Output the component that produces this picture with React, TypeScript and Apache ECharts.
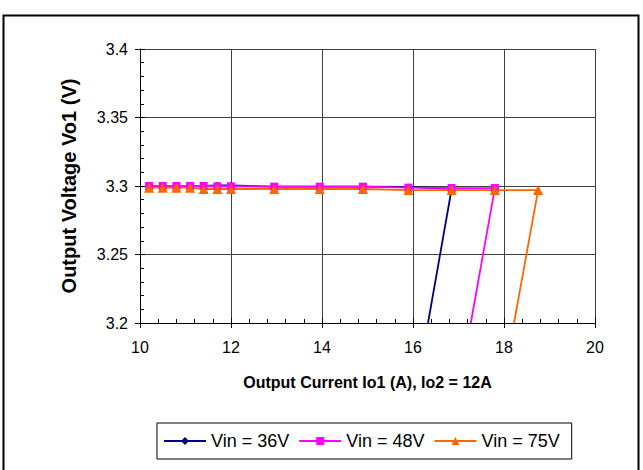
import React, { useEffect, useRef } from "react";
import * as echarts from "echarts";

const iout36 = [10.2, 10.5, 10.8, 11.1, 11.4, 11.7, 12.0, 12.95, 13.95, 14.9, 15.9, 16.85, 16.33];
const vo36 = [3.3, 3.3, 3.3, 3.3, 3.3, 3.3005, 3.3005, 3.2995, 3.2995, 3.2995, 3.2993, 3.298, 3.2];
const iout48 = [10.2, 10.5, 10.8, 11.1, 11.4, 11.7, 12.0, 12.95, 13.95, 14.9, 15.9, 16.85, 17.8, 17.27];
const vo48 = [3.3, 3.3, 3.3, 3.3, 3.3, 3.2998, 3.2998, 3.2995, 3.2995, 3.2995, 3.2988, 3.2985, 3.2985, 3.2];
const iout75 = [10.2, 10.5, 10.8, 11.1, 11.4, 11.7, 12.0, 12.95, 13.95, 14.9, 15.9, 16.85, 17.8, 18.75, 18.22];
const vo75 = [3.2988, 3.2988, 3.2988, 3.2988, 3.2978, 3.2978, 3.2978, 3.2978, 3.2978, 3.2978, 3.297, 3.297, 3.297, 3.297, 3.2];

const seriesNames = ["Vin = 36V", "Vin = 48V", "Vin = 75V"];
const xTickLabels = ["10", "12", "14", "16", "18", "20"];
const yTickLabels = ["3.2", "3.25", "3.3", "3.35", "3.4"];

const FONT = "'Liberation Sans', Arial, sans-serif";

function pts(xs: number[], ys: number[]) {
  return xs.map((x, i) => {
    const last = i === xs.length - 1;
    return last ? { value: [x, ys[i]], symbol: "none" } : { value: [x, ys[i]] };
  });
}

export default function App() {
  const ref = useRef<HTMLDivElement>(null);
  useEffect(() => {
    document.body.style.margin = "0";
    const chart = echarts.init(ref.current!, null, { renderer: "svg" });
    const gridColor = "#404040";
    const option: any = {
      animation: false,
      backgroundColor: "#fff",
      textStyle: { fontFamily: FONT },
      graphic: [
        {
          type: "rect",
          shape: { x: 3.5, y: 15.5, width: 635, height: 470 },
          style: { fill: "none", stroke: "#000", lineWidth: 2 },
          silent: true,
        },
      ],
      grid: { left: 140, top: 49, width: 455, height: 274 },
      xAxis: [
        {
          type: "value",
          min: 10,
          max: 20,
          interval: 2,
          position: "bottom",
          name: "Output Current Io1 (A), Io2 = 12A",
          nameLocation: "middle",
          nameGap: 51,
          nameTextStyle: { fontSize: 16, fontWeight: "bold", color: "#000", fontFamily: FONT },
          axisLine: { show: true, lineStyle: { color: "#000", width: 1 } },
          axisTick: { show: true, inside: true, length: 5, lineStyle: { color: "#000" } },
          minorTick: { show: true, splitNumber: 5, length: 4, lineStyle: { color: "#000" } },
          axisLabel: {
            fontSize: 16,
            color: "#000",
            margin: 16,
            fontFamily: FONT,
            formatter: (v: number) => xTickLabels[Math.round((v - 10) / 2)] ?? "",
          },
          splitLine: { show: true, lineStyle: { color: gridColor, width: 1 } },
        },
        {
          type: "value",
          min: 10,
          max: 20,
          interval: 2,
          position: "bottom",
          axisLine: { show: false },
          axisTick: { show: true, inside: false, length: 5, lineStyle: { color: "#000" } },
          axisLabel: { show: false },
          splitLine: { show: false },
        },
      ],
      yAxis: [
        {
          type: "value",
          min: 3.2,
          max: 3.4,
          interval: 0.05,
          position: "left",
          name: "Output Voltage Vo1 (V)",
          nameLocation: "middle",
          nameGap: 61,
          nameTextStyle: { fontSize: 20, fontWeight: "bold", color: "#000", fontFamily: FONT },
          axisLine: { show: true, lineStyle: { color: "#000", width: 1 } },
          axisTick: { show: true, inside: true, length: 5, lineStyle: { color: "#000" } },
          minorTick: { show: true, splitNumber: 5, length: 4, lineStyle: { color: "#000" } },
          axisLabel: {
            fontSize: 16,
            color: "#000",
            margin: 12,
            fontFamily: FONT,
            formatter: (v: number) => yTickLabels[Math.round((v - 3.2) / 0.05)] ?? "",
          },
          splitLine: { show: true, lineStyle: { color: gridColor, width: 1 } },
        },
        {
          type: "value",
          min: 3.2,
          max: 3.4,
          interval: 0.05,
          position: "left",
          axisLine: { show: false },
          axisTick: { show: true, inside: false, length: 5, lineStyle: { color: "#000" } },
          axisLabel: { show: false },
          splitLine: { show: false },
        },
      ],
      legend: {
        left: 157,
        top: 423,
        orient: "horizontal",
        borderColor: "#000",
        borderWidth: 1,
        padding: [9, 12, 9, 6],
        itemWidth: 42,
        itemHeight: 10,
        itemGap: 9,
        textStyle: { fontSize: 18, color: "#000", fontFamily: FONT },
        data: seriesNames,
      },
      series: [
        {
          name: seriesNames[0],
          type: "line",
          data: pts(iout36, vo36),
          symbol: "diamond",
          symbolSize: 7,
          itemStyle: { color: "#000080" },
          lineStyle: { color: "#000080", width: 1.8 },
          clip: true,
        },
        {
          name: seriesNames[1],
          type: "line",
          data: pts(iout48, vo48),
          symbol: "rect",
          symbolSize: 8,
          itemStyle: { color: "#FF00FF" },
          lineStyle: { color: "#FF00FF", width: 1.8 },
          clip: true,
        },
        {
          name: seriesNames[2],
          type: "line",
          data: pts(iout75, vo75),
          symbol: "triangle",
          symbolSize: 10,
          itemStyle: { color: "#FF6600" },
          lineStyle: { color: "#FF6600", width: 1.8 },
          clip: true,
        },
      ],
    };
    chart.setOption(option);
    return () => chart.dispose();
  }, []);
  return <div ref={ref} style={{ position: "absolute", left: 0, top: 0, width: 643, height: 470 }} />;
}
